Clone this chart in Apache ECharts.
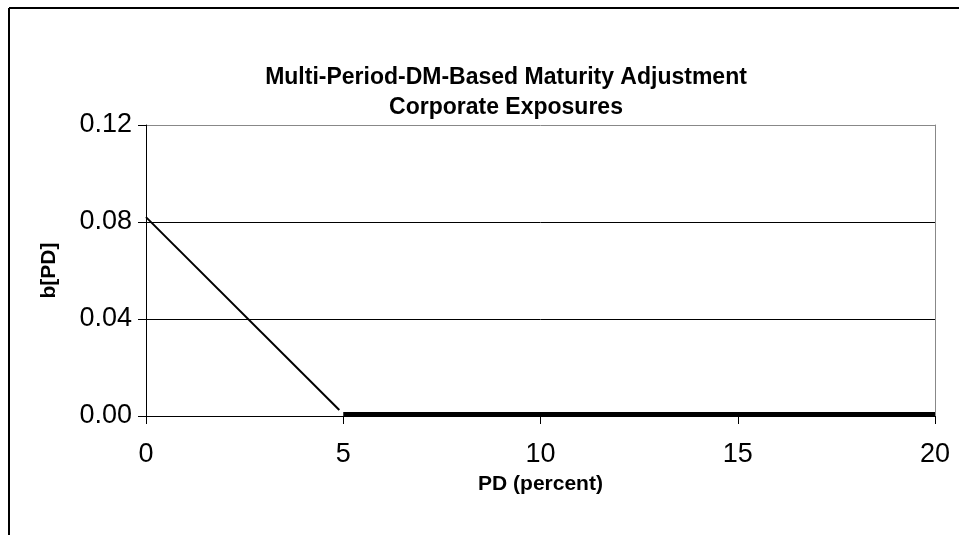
<!DOCTYPE html>
<html><head><meta charset="utf-8">
<script src="https://cdn.jsdelivr.net/npm/echarts@6/dist/echarts.min.js"></script>
<style>html,body{margin:0;padding:0;background:#fff}#c{width:959px;height:535px}</style>
</head><body><div id="c"></div>
<script>
const titleLines = ['Multi-Period-DM-Based Maturity Adjustment', 'Corporate Exposures'];
const xName = 'PD (percent)';
const yName = 'b[PD]';
const xTicks = [0, 5, 10, 15, 20];
const yTicks = [0, 0.04, 0.08, 0.12];
const slopePD = [0, 4.9];
const slopeB = [0.082, 0.0025];
const flatPD = [5, 20];
const flatB = [0.0008, 0.0008];

const chart = echarts.init(document.getElementById('c'), null, {renderer: 'canvas'});
const font = 'Liberation Sans, Arial, sans-serif';
chart.setOption({
  animation: false,
  title: {
    text: titleLines.join('\n'), left: 501, top: 58, textAlign: 'center',
    textStyle: {fontFamily: font, fontSize: 23, fontWeight: 'bold', color: '#000', lineHeight: 30}
  },
  graphic: [
    {type: 'line', shape: {x1: 9, y1: 8, x2: 959, y2: 8}, style: {stroke: '#000', lineWidth: 2}},
    {type: 'line', shape: {x1: 9, y1: 8, x2: 9, y2: 535}, style: {stroke: '#000', lineWidth: 2}}
  ],
  grid: {left: 146, right: 24, top: 125, bottom: 119},
  xAxis: {
    type: 'value', min: xTicks[0], max: xTicks[xTicks.length - 1], interval: 5,
    name: xName, nameLocation: 'middle', nameGap: 58,
    nameTextStyle: {fontFamily: font, fontSize: 21, fontWeight: 'bold', color: '#000'},
    axisLine: {onZero: false, lineStyle: {color: '#000', width: 1}},
    axisTick: {show: true, length: 8, inside: false, lineStyle: {color: '#000'}},
    axisLabel: {fontFamily: font, fontSize: 27, color: '#000', margin: 25},
    splitLine: {show: false}
  },
  yAxis: [{
    type: 'value', min: yTicks[0], max: yTicks[yTicks.length - 1], interval: 0.04,
    name: yName, nameLocation: 'middle', nameGap: 86, nameRotate: 90,
    nameTextStyle: {fontFamily: font, fontSize: 21, fontWeight: 'bold', color: '#000'},
    axisLine: {show: true, lineStyle: {color: '#000', width: 1}},
    axisTick: {show: true, length: 8, lineStyle: {color: '#000'}},
    axisLabel: {fontFamily: font, fontSize: 27, color: '#000', margin: 14,
      padding: [10, 0, 0, 0], formatter: v => v.toFixed(2)},
    splitLine: {show: true, lineStyle: {color: ['#888', '#000', '#000', '#888'], width: 1}}
  }, {
    type: 'value', min: 0, max: 0.12, position: 'right',
    axisLine: {show: true, lineStyle: {color: '#888', width: 1}},
    axisTick: {show: false}, axisLabel: {show: false}, splitLine: {show: false}
  }],
  series: [{
    type: 'line', data: slopePD.map((x, i) => [x, slopeB[i]]),
    showSymbol: false, lineStyle: {color: '#000', width: 2}
  }, {
    type: 'line', data: flatPD.map((x, i) => [x, flatB[i]]),
    showSymbol: false, lineStyle: {color: '#000', width: 4}
  }]
});
</script></body></html>
